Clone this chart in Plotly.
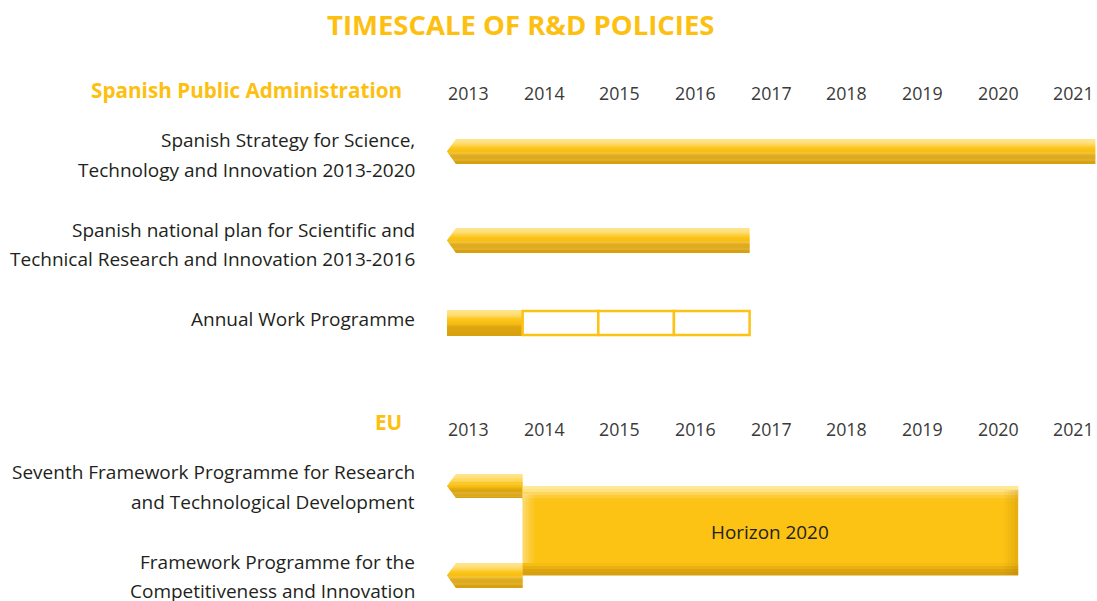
import plotly.graph_objects as go

# ---------------- data ----------------
years = [2013, 2014, 2015, 2016, 2017, 2018, 2019, 2020, 2021]

title = "TIMESCALE OF R&D POLICIES"
section_spain = "Spanish Public Administration"
section_eu = "EU"

spain_labels = [
    ["Spanish Strategy for Science,", "Technology and Innovation 2013-2020"],
    ["Spanish national plan for Scientific and", "Technical Research and Innovation 2013-2016"],
]
spain_start = [2013, 2013]
spain_end = [2021.57, 2017]

annual_label = "Annual Work Programme"
annual_years = [2013, 2014, 2015, 2016]
annual_filled = [True, False, False, False]

eu_labels = [
    ["Seventh Framework Programme for Research", "and Technological Development"],
    ["Framework Programme for the", "Competitiveness and Innovation"],
]
eu_start = [2013, 2013]
eu_end = [2014, 2014]

horizon_label = "Horizon 2020"
horizon_start = 2014
horizon_end = 2020.55

# ---------------- layout constants ----------------
W, H = 1097, 601
PX_PER_YEAR = 75.65
X0_PX = 447
XMIN = 2013 - X0_PX / PX_PER_YEAR
XMAX = 2013 + (W - X0_PX) / PX_PER_YEAR
CHEV = 9 / PX_PER_YEAR  # chevron depth in years

YELLOW = "#FCC314"
TEXT = "#231F20"

spain_rows = [(139, 164), (228, 253)]
annual_row = (310, 336)
eu_rows = [(474, 498), (563, 588)]
horizon_row = (486, 575)

stops = [(0.0, (255, 229, 145)), (0.18, (255, 222, 118)), (0.36, (252, 197, 26)),
         (0.55, (245, 187, 18)), (0.64, (222, 167, 16)), (1.0, (214, 160, 15))]


def grad_color(t):
    for (t0, c0), (t1, c1) in zip(stops[:-1], stops[1:]):
        if t <= t1:
            f = (t - t0) / (t1 - t0) if t1 > t0 else 0
            c = [round(a + (b - a) * f) for a, b in zip(c0, c1)]
            return "rgb(%d,%d,%d)" % tuple(c)
    return "rgb(%d,%d,%d)" % stops[-1][1]


shapes = []


def band_path(x0, x1, ya, yb, ytop, ybot, chevron):
    ymid = (ytop + ybot) / 2
    half = (ybot - ytop) / 2

    def lx(y):
        return x0 + (CHEV * abs(y - ymid) / half if chevron else 0)

    pts = [(lx(ya), ya), (x1, ya), (x1, yb), (lx(yb), yb)]
    if chevron and ya < ymid < yb:
        pts.append((x0, ymid))
    return "M " + " L ".join("%f,%f" % p for p in pts) + " Z"


def glossy_bar(x0, x1, ytop, ybot, chevron=True, n=26):
    h = ybot - ytop
    for i in range(n):
        ya = ytop + h * i / n
        yb = ytop + h * (i + 1) / n + 0.4
        yb = min(yb, ybot)
        shapes.append(dict(type="path", xref="x", yref="y",
                           path=band_path(x0, x1, ya, yb, ytop, ybot, chevron),
                           fillcolor=grad_color((i + 0.5) / n), line=dict(width=0),
                           layer="above"))


for (s, e), (yt, yb) in zip(zip(spain_start, spain_end), spain_rows):
    glossy_bar(s, e, yt, yb, chevron=True)

for y0, filled in zip(annual_years, annual_filled):
    if filled:
        glossy_bar(y0, y0 + 1, annual_row[0], annual_row[1], chevron=False)
    else:
        shapes.append(dict(type="rect", xref="x", yref="y", x0=y0, x1=y0 + 1,
                           y0=annual_row[0] + 1, y1=annual_row[1] - 1,
                           fillcolor="white", line=dict(color=YELLOW, width=2.5),
                           layer="above"))

for (s, e), (yt, yb) in zip(zip(eu_start, eu_end), eu_rows):
    glossy_bar(s, e, yt, yb, chevron=True)

# Horizon 2020 box
hy0, hy1 = horizon_row
shapes.append(dict(type="rect", xref="x", yref="y", x0=horizon_start, x1=horizon_end,
                   y0=hy0, y1=hy1, fillcolor=YELLOW, line=dict(width=0), layer="above"))
top_cols = [(255, 232, 150), (255, 226, 130), (254, 214, 95), (253, 203, 50), (252, 197, 28)]
for i, c in enumerate(top_cols):
    shapes.append(dict(type="rect", xref="x", yref="y", x0=horizon_start, x1=horizon_end,
                       y0=hy0 + i * 3, y1=hy0 + (i + 1) * 3 + 0.4,
                       fillcolor="rgb(%d,%d,%d)" % c, line=dict(width=0), layer="above"))
bot_cols = [(246, 190, 20), (232, 176, 17), (220, 165, 15), (214, 160, 15)]
for i, c in enumerate(bot_cols):
    shapes.append(dict(type="rect", xref="x", yref="y", x0=horizon_start, x1=horizon_end,
                       y0=hy1 - 12 + i * 3, y1=hy1 - 12 + (i + 1) * 3 + 0.4,
                       fillcolor="rgb(%d,%d,%d)" % c, line=dict(width=0), layer="above"))
for i, a in enumerate([0.05, 0.1, 0.16, 0.22]):
    px = 3.5 / PX_PER_YEAR
    shapes.append(dict(type="rect", xref="x", yref="y",
                       x0=horizon_end - (4 - i) * px, x1=horizon_end - (3 - i) * px,
                       y0=hy0 + 4, y1=hy1, fillcolor="rgba(160,110,0,%f)" % a,
                       line=dict(width=0), layer="above"))
for i, a in enumerate([0.35, 0.25, 0.15, 0.07]):
    px = 3 / PX_PER_YEAR
    shapes.append(dict(type="rect", xref="x", yref="y",
                       x0=horizon_start + i * px, x1=horizon_start + (i + 1) * px,
                       y0=hy0 + 8, y1=hy1 - 12, fillcolor="rgba(255,255,255,%f)" % a,
                       line=dict(width=0), layer="above"))

# ---------------- annotations ----------------
ann = []
FONT = "Open Sans"
LABEL_X = 417 / W


def label(text, y, size=19, color=TEXT):
    ann.append(dict(text=text, x=LABEL_X, xref="paper",
                    y=y, yref="y", showarrow=False, xanchor="right", yanchor="middle",
                    font=dict(family=FONT, size=size, color=color)))


ann.append(dict(text="<b>%s</b>" % title, x=520.5 / W, xref="paper",
                y=24, yref="y", showarrow=False, xanchor="center", yanchor="middle",
                font=dict(family=FONT, size=27.5, color="#FDC010")))

ann.append(dict(text="<b>%s</b>" % section_spain, x=404 / W, xref="paper", y=90, yref="y",
                showarrow=False, xanchor="right", yanchor="middle",
                font=dict(family=FONT, size=20.7, color="#FDC010")))
ann.append(dict(text="<b>%s</b>" % section_eu, x=404 / W, xref="paper", y=422, yref="y",
                showarrow=False, xanchor="right", yanchor="middle",
                font=dict(family=FONT, size=20.7, color="#FDC010")))

for yr_y in (93, 429):
    for yr in years:
        ann.append(dict(text=str(yr), x=yr, xref="x", y=yr_y, yref="y", showarrow=False,
                        xanchor="left", yanchor="middle", xshift=-1,
                        font=dict(family=FONT, size=17.8, color="#3A3A3A")))

line_ys = [(140, 170), (230, 259)]
for lines, ys in zip(spain_labels, line_ys):
    for t, y in zip(lines, ys):
        label(t, y)
label(annual_label, 319)

eu_line_ys = [(472, 502), (562, 591)]
for lines, ys in zip(eu_labels, eu_line_ys):
    for t, y in zip(lines, ys):
        label(t, y)

ann.append(dict(text=horizon_label, x=(horizon_start + horizon_end) / 2, xref="x",
                y=(hy0 + hy1) / 2 + 1, yref="y", showarrow=False,
                font=dict(family=FONT, size=18.9, color=TEXT)))

fig = go.Figure()
fig.add_trace(go.Scatter(x=[XMIN, XMAX], y=[0, H], mode="markers",
                         marker=dict(opacity=0), hoverinfo="skip", showlegend=False))
fig.update_layout(
    width=W, height=H,
    margin=dict(l=0, r=0, t=0, b=0),
    paper_bgcolor="white", plot_bgcolor="white",
    xaxis=dict(range=[XMIN, XMAX], visible=False, fixedrange=True),
    yaxis=dict(range=[H, 0], visible=False, fixedrange=True),
    shapes=shapes, annotations=ann, showlegend=False,
)
fig.write_html("out.html", config={"displayModeBar": False},
               post_script="document.body.style.margin='0';document.body.style.overflow='hidden';")
